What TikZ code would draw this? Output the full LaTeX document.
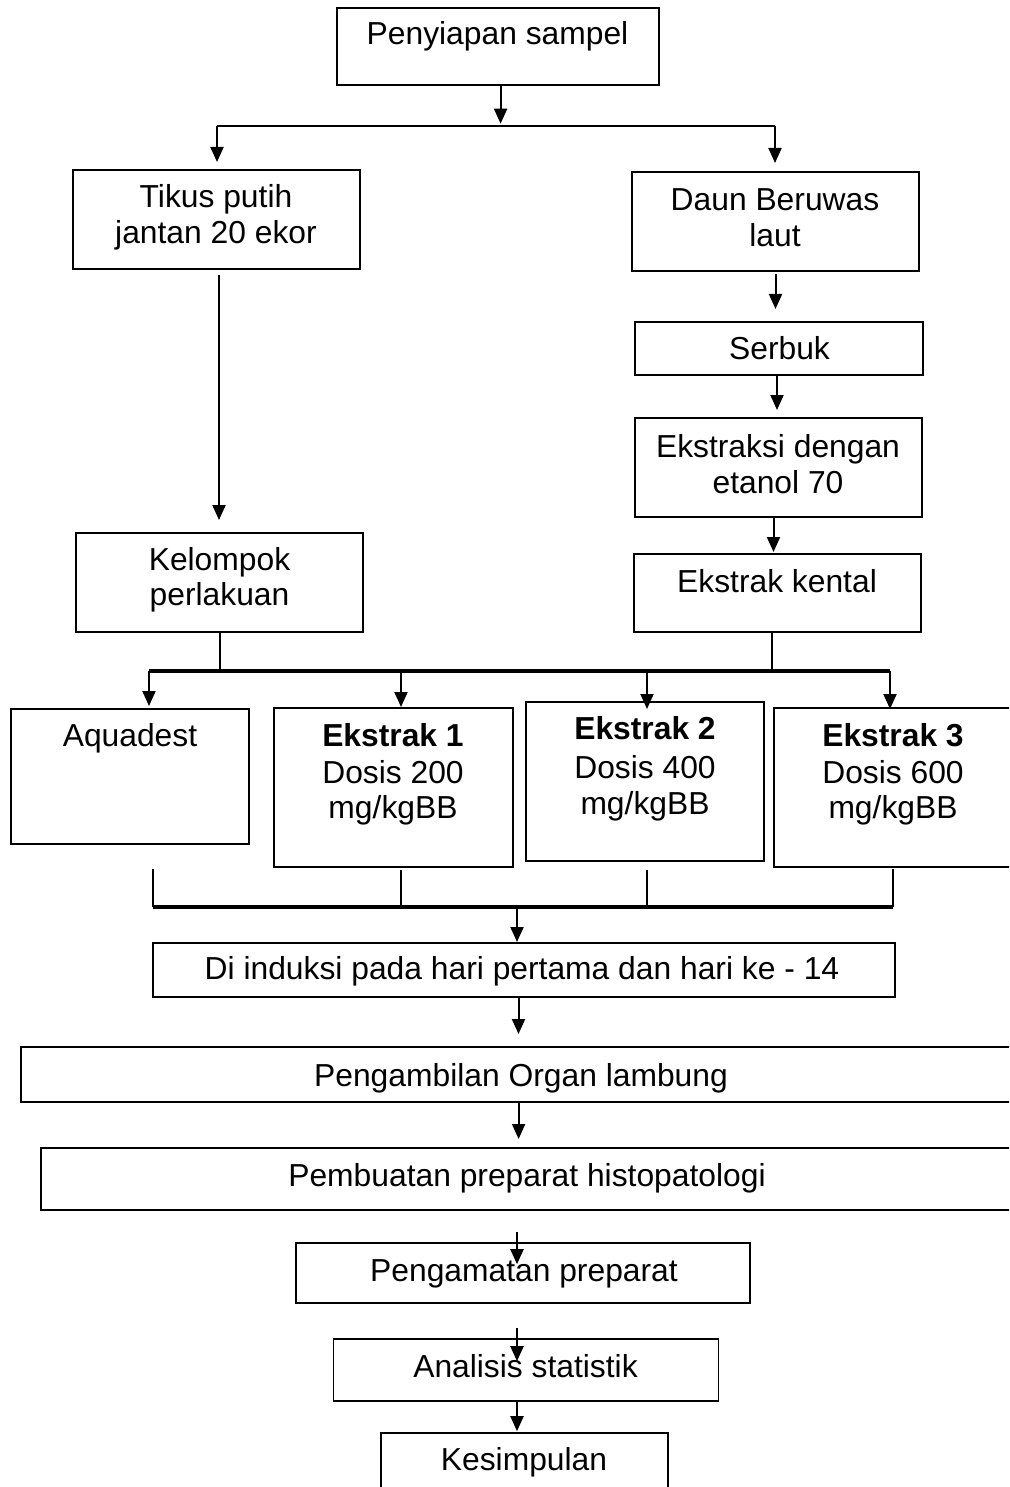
\documentclass[tikz,border=0pt]{standalone}
\usepackage{fontspec}
\setmainfont{Liberation Sans}
\usetikzlibrary{arrows.meta,calc}
\begin{document}
\begin{tikzpicture}[x=1pt,y=-1pt,
  box/.style={draw, line width=2pt, inner sep=0pt, rectangle},
  txt/.style={font=\fontsize{31.8}{36}\selectfont, anchor=base, inner sep=0pt},
  arr/.style={line width=2pt, -{Triangle[length=15pt,width=13pt]}},
  ln/.style={line width=2pt},
  bus/.style={line width=3.2pt}]
\path[use as bounding box] (0,0) rectangle (1009,1487);
\clip (0,0) rectangle (1009,1487);
\fill[white] (0,0) rectangle (1009,1487);

% boxes
\node[box, minimum width=322pt, minimum height=77pt] (pen) at (498,46.5) {};
\node[box, minimum width=287pt, minimum height=99pt] (tik) at (216.5,219.5) {};
\node[box, minimum width=287pt, minimum height=99pt] (daun) at (775.5,221.5) {};
\node[box, minimum width=288pt, minimum height=53pt] (serb) at (779,348.5) {};
\node[box, minimum width=287pt, minimum height=99pt] (eks) at (778.5,467.5) {};
\node[box, minimum width=287pt, minimum height=78pt] (kent) at (777.5,593) {};
\node[box, minimum width=287pt, minimum height=99pt] (kel) at (219.5,582.5) {};
\node[box, minimum width=238pt, minimum height=135pt] (aq) at (130,776.5) {};
\node[box, minimum width=239pt, minimum height=159pt] (e1) at (393.5,787.5) {};
\node[box, minimum width=238pt, minimum height=159pt] (e2) at (645,781.5) {};
\node[box, minimum width=239pt, minimum height=159pt] (e3) at (893,787.5) {};
\node[box, minimum width=742pt, minimum height=54pt] (ind) at (523.5,970) {};
\node[box, minimum width=1000pt, minimum height=55pt] (amb) at (521,1074.5) {};
\node[box, minimum width=972pt, minimum height=62pt] (buat) at (527,1179) {};
\node[box, line width=1.6pt, minimum width=454pt, minimum height=60pt] (amat) at (523,1273) {};
\node[box, line width=1.6pt, minimum width=385pt, minimum height=62pt] (anal) at (526,1370) {};
\node[box, line width=1.6pt, minimum width=287pt, minimum height=70pt] (kes) at (524.5,1468) {};

% texts
\node[txt] at (497.5,45) {Penyiapan sampel};
\node[txt] at (216,208) {Tikus putih};
\node[txt] at (216,244) {jantan 20 ekor};
\node[txt] at (775,211) {Daun Beruwas};
\node[txt] at (775,247) {laut};
\node[txt] at (779.5,359) {Serbuk};
\node[txt] at (778,457) {Ekstraksi dengan};
\node[txt] at (778,493) {etanol 70};
\node[txt] at (777,592) {Ekstrak kental};
\node[txt] at (219.5,570) {Kelompok};
\node[txt] at (219.5,605) {perlakuan};
\node[txt] at (130,746) {Aquadest};
\node[txt] at (393,746) {\bfseries Ekstrak 1};
\node[txt] at (393,783) {Dosis 200};
\node[txt] at (393,818) {mg/kgBB};
\node[txt] at (645,739) {\bfseries Ekstrak 2};
\node[txt] at (645,778) {Dosis 400};
\node[txt] at (645,814) {mg/kgBB};
\node[txt] at (893,746) {\bfseries Ekstrak 3};
\node[txt] at (893,783) {Dosis 600};
\node[txt] at (893,818) {mg/kgBB};
\node[txt] at (522,979) {Di induksi pada hari pertama dan hari ke - 14};
\node[txt] at (521,1086) {Pengambilan Organ lambung};
\node[txt] at (527,1186) {Pembuatan preparat histopatologi};
\node[txt] at (524,1281) {Pengamatan preparat};
\node[txt] at (525.5,1377) {Analisis statistik};
\node[txt] at (524,1470) {Kesimpulan};

% top split
\coordinate (jtop) at (500.6,125.7);
\coordinate (jl) at (217,125.7);
\coordinate (jr) at (775,125.7);
\draw[arr, shorten >=2pt] ([xshift=2.6pt]pen.south) -- (jtop);
\draw[ln] (jl) -- (jr);
\draw[arr, shorten >=7pt] (jl) -- (jl |- tik.north);
\draw[arr, shorten >=8pt] (jr) -- (jr |- daun.north);

% right chain
\draw[arr, shorten <=2pt, shorten >=12pt] (daun.south) -- (daun.south |- serb.north);
\draw[arr, shorten >=7pt] ([xshift=-2pt]serb.south) -- ([xshift=-2pt]serb.south |- eks.north);
\draw[arr, shorten >=1pt] ([xshift=-5pt]eks.south) -- ([xshift=-5pt]eks.south |- kent.north);

% left chain
\draw[arr, shorten <=5pt, shorten >=12pt] ([xshift=2.5pt]tik.south) -- ([xshift=2.5pt]tik.south |- kel.north);

% upper bus
\coordinate (b1l) at (149,671);
\coordinate (b1a) at (401,671);
\coordinate (b1b) at (647,671);
\coordinate (b1r) at (890,671);
\draw[ln] (kel.south) -- (kel.south |- b1l);
\draw[ln] ([xshift=-6pt]kent.south) -- ([xshift=-6pt]kent.south |- b1l);
\draw[bus] (b1l) -- (b1r);
\draw[arr, shorten >=2pt] (b1l) -- (b1l |- aq.north);
\draw[arr] (b1a) -- (b1a |- e1.north);
\draw[arr, shorten >=-8pt] (b1b) -- (b1b |- e2.north);
\draw[arr, shorten >=-2pt] (b1r) -- (b1r |- e3.north);

% lower bus
\coordinate (b2l) at (152.5,907);
\coordinate (b2a) at (401,907);
\coordinate (b2b) at (647,907);
\coordinate (b2r) at (893,907);
\coordinate (b2m) at (517,907);
\draw[ln, shorten <=24pt] (b2l |- aq.south) -- (b2l);
\draw[ln, shorten <=2pt] (b2a |- e1.south) -- (b2a);
\draw[ln, shorten <=8pt] (b2b |- e2.south) -- (b2b);
\draw[ln, shorten <=1pt] (e3.south) -- (b2r);
\draw[bus] (b2l) -- (b2r);
\draw[arr] (b2m) -- (b2m |- ind.north);

% bottom chain
\draw[arr, shorten >=12pt] ([xshift=-5pt]ind.south) -- ([xshift=-5pt]ind.south |- amb.north);
\draw[arr, shorten >=8pt] ([xshift=-2.4pt]amb.south) -- ([xshift=-2.4pt]amb.south |- buat.north);
\draw[arr, shorten <=21pt, shorten >=-22pt] ([xshift=-10pt]buat.south) -- ([xshift=-10pt]buat.south |- amat.north);
\draw[arr, shorten <=24pt, shorten >=-23pt] ([xshift=-6pt]amat.south) -- ([xshift=-6pt]amat.south |- anal.north);
\draw[arr, shorten >=1pt] ([xshift=-9pt]anal.south) -- ([xshift=-9pt]anal.south |- kes.north);
\end{tikzpicture}
\end{document}
